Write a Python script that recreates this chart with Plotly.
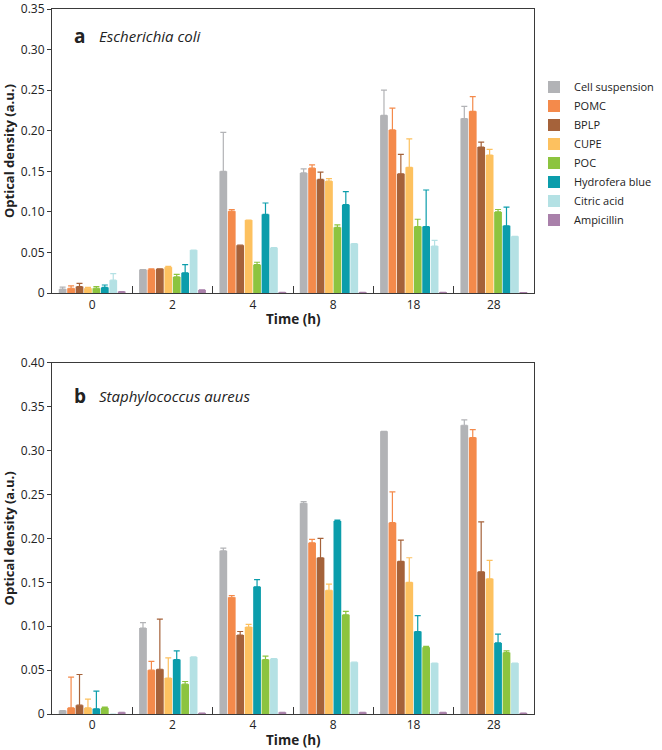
import plotly.graph_objects as go

TIMES = ["0", "2", "4", "8", "18", "28"]

SERIES_A = ["Cell suspension", "POMC", "BPLP", "CUPE", "POC", "Hydrofera blue", "Citric acid", "Ampicillin"]
SERIES_B = ["Cell suspension", "POMC", "BPLP", "CUPE", "Hydrofera blue", "POC", "Citric acid", "Ampicillin"]

COLORS = {
    "Cell suspension": "#b2b3b6",
    "POMC": "#f48a4b",
    "BPLP": "#a5623a",
    "CUPE": "#fdc15f",
    "POC": "#8cc43f",
    "Hydrofera blue": "#0b9dab",
    "Citric acid": "#b4e1e4",
    "Ampicillin": "#a980aa",
}

# panel a, Escherichia coli: mean and top of error bar
ECOLI_MEAN = {
    "Cell suspension": [0.005, 0.029, 0.150, 0.148, 0.219, 0.215],
    "POMC":            [0.006, 0.029, 0.101, 0.154, 0.201, 0.224],
    "BPLP":            [0.008, 0.030, 0.059, 0.140, 0.147, 0.180],
    "CUPE":            [0.006, 0.032, 0.090, 0.138, 0.155, 0.170],
    "POC":             [0.006, 0.020, 0.035, 0.081, 0.082, 0.100],
    "Hydrofera blue":  [0.007, 0.025, 0.097, 0.109, 0.082, 0.083],
    "Citric acid":     [0.016, 0.053, 0.056, 0.061, 0.058, 0.070],
    "Ampicillin":      [0.002, 0.004, 0.001, 0.001, 0.001, 0.0006],
}
ECOLI_TOP = {
    "Cell suspension": [0.0075, 0.029, 0.198, 0.153, 0.250, 0.230],
    "POMC":            [0.009, 0.030, 0.103, 0.158, 0.228, 0.242],
    "BPLP":            [0.012, 0.030, 0.059, 0.149, 0.171, 0.186],
    "CUPE":            [0.007, 0.033, 0.090, 0.141, 0.190, 0.177],
    "POC":             [0.008, 0.023, 0.038, 0.084, 0.091, 0.103],
    "Hydrofera blue":  [0.010, 0.035, 0.111, 0.125, 0.127, 0.106],
    "Citric acid":     [0.024, 0.053, 0.056, 0.061, 0.065, 0.070],
    "Ampicillin":      [0.002, 0.004, 0.001, 0.001, 0.001, 0.0006],
}

# panel b, Staphylococcus aureus
STAPH_MEAN = {
    "Cell suspension": [0.004, 0.098, 0.186, 0.240, 0.322, 0.329],
    "POMC":            [0.007, 0.050, 0.133, 0.195, 0.218, 0.315],
    "BPLP":            [0.010, 0.051, 0.090, 0.178, 0.174, 0.162],
    "CUPE":            [0.007, 0.041, 0.099, 0.141, 0.150, 0.154],
    "Hydrofera blue":  [0.006, 0.062, 0.145, 0.220, 0.094, 0.081],
    "POC":             [0.007, 0.034, 0.062, 0.113, 0.076, 0.070],
    "Citric acid":     [0.0, 0.065, 0.063, 0.059, 0.058, 0.058],
    "Ampicillin":      [0.002, 0.001, 0.002, 0.002, 0.002, 0.001],
}
STAPH_TOP = {
    "Cell suspension": [0.004, 0.104, 0.189, 0.242, 0.322, 0.335],
    "POMC":            [0.042, 0.060, 0.135, 0.199, 0.253, 0.324],
    "BPLP":            [0.045, 0.108, 0.094, 0.200, 0.198, 0.219],
    "CUPE":            [0.017, 0.064, 0.102, 0.148, 0.178, 0.175],
    "Hydrofera blue":  [0.026, 0.072, 0.153, 0.221, 0.112, 0.091],
    "POC":             [0.008, 0.037, 0.066, 0.117, 0.077, 0.072],
    "Citric acid":     [0.0, 0.065, 0.063, 0.059, 0.058, 0.058],
    "Ampicillin":      [0.002, 0.001, 0.002, 0.002, 0.002, 0.001],
}

FONT = "Open Sans, Arial, sans-serif"
AXIS_COLOR = "#3a3a3a"
TEXT_COLOR = "#222"

fig = go.Figure()


def add_panel(series, means, tops, xaxis, yaxis, legend):
    for name in series:
        m = means[name]
        up = [max(t - v, 0) for t, v in zip(tops[name], m)]
        fig.add_trace(go.Bar(
            x=TIMES, y=m, name=name,
            marker=dict(color=COLORS[name], line=dict(width=0)),
            error_y=dict(type="data", symmetric=False, array=up,
                         arrayminus=[0] * len(m), color=COLORS[name],
                         thickness=1.2, width=3),
            xaxis=xaxis, yaxis=yaxis,
            legendgroup=name, showlegend=legend,
        ))


add_panel(SERIES_A, ECOLI_MEAN, ECOLI_TOP, "x", "y", True)
add_panel(SERIES_B, STAPH_MEAN, STAPH_TOP, "x2", "y2", False)

xaxis_common = dict(
    type="category", showline=True, mirror=True, linecolor=AXIS_COLOR, linewidth=1,
    ticks="inside", tickson="boundaries", ticklen=7, tickcolor=AXIS_COLOR,
    tickfont=dict(size=12, color=TEXT_COLOR, family=FONT),
    showgrid=False, zeroline=False,
)


def yaxis_common(top, step):
    vals = [round(i * step, 2) for i in range(int(round(top / step)) + 1)]
    text = ["0"] + [f"{v:.2f}" for v in vals[1:]]
    return dict(
        range=[0, top], showline=True, mirror=True, linecolor=AXIS_COLOR, linewidth=1,
        ticks="outside", ticklen=4, tickcolor=AXIS_COLOR,
        tickvals=vals, ticktext=text,
        tickfont=dict(size=12, color=TEXT_COLOR, family=FONT),
        showgrid=False, zeroline=False,
        title=dict(text="<b>Optical density (a.u.)</b>",
                   font=dict(size=13, color=TEXT_COLOR, family=FONT), standoff=8),
    )


def panel_label(xa, ya, letter, species):
    return [
        dict(xref=f"{xa} domain", yref=f"{ya} domain", x=0.042, y=0.905, xanchor="left",
             yanchor="middle", text=f"<b>{letter}</b>", showarrow=False,
             font=dict(size=19, color=TEXT_COLOR, family=FONT)),
        dict(xref=f"{xa} domain", yref=f"{ya} domain", x=0.094, y=0.905, xanchor="left",
             yanchor="middle", text=f"<i>{species}</i>", showarrow=False,
             font=dict(size=15, color=TEXT_COLOR, family=FONT)),
    ]


def time_title(xa, ya, shift):
    return dict(xref=f"{xa} domain", yref=f"{ya} domain", x=0.5, y=0, yshift=shift,
                xanchor="center", yanchor="middle", text="<b>Time (h)</b>", showarrow=False,
                font=dict(size=13.5, color=TEXT_COLOR, family=FONT))


fig.update_layout(
    width=662, height=750,
    paper_bgcolor="white", plot_bgcolor="white",
    margin=dict(l=52, r=128, t=9, b=36, autoexpand=False),
    barmode="group", bargap=0.16, bargroupgap=0.08,
    font=dict(family=FONT, color=TEXT_COLOR),
    xaxis=dict(domain=[0, 1], anchor="y", **xaxis_common),
    yaxis=dict(domain=[0.597, 1.0], anchor="x", **yaxis_common(0.35, 0.05)),
    xaxis2=dict(domain=[0, 1], anchor="y2", **xaxis_common),
    yaxis2=dict(domain=[0.0, 0.498], anchor="x2", **yaxis_common(0.40, 0.05)),
    legend=dict(x=1.0, y=0.91, xanchor="left", yanchor="top",
                font=dict(size=11, family=FONT, color=TEXT_COLOR),
                itemwidth=30, tracegroupgap=0, bgcolor="rgba(0,0,0,0)"),
    annotations=panel_label("x", "y", "a", "Escherichia coli")
    + panel_label("x2", "y2", "b", "Staphylococcus aureus")
    + [time_title("x", "y", -26), time_title("x2", "y2", -26)],
)

# the page body has a default 8px margin; drop it so the figure sits at the corner
fig.write_html("out.html", config={"displayModeBar": False},
               post_script="document.body.style.margin='0';")
